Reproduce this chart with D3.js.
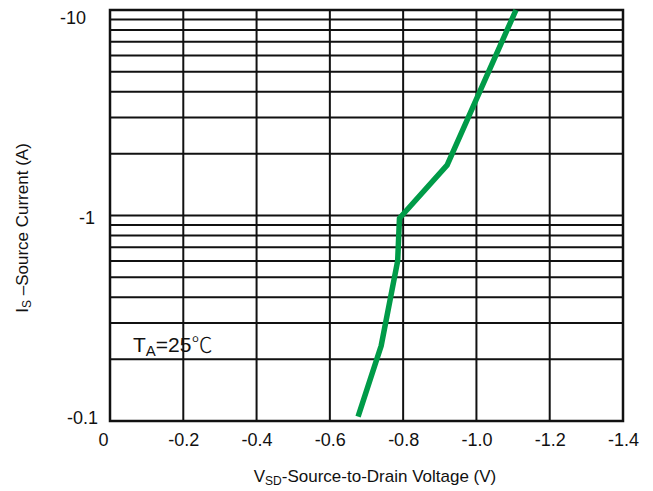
<!DOCTYPE html>
<html>
<head>
<meta charset="utf-8">
<script src="https://cdn.jsdelivr.net/npm/d3@7"></script>
<style>
  html, body { margin: 0; padding: 0; background: #fff; }
  svg { display: block; }
  text { font-family: "Liberation Sans", Arial, sans-serif; fill: #111; }
</style>
</head>
<body>
<script>
// Source-to-drain diode forward characteristic (negative polarity)
const vsd = [-0.677, -0.74, -0.785, -0.79, -0.92, -1.108];      // V
const isd = [-0.105, -0.232, -0.6, -0.97, -1.76, -10];          // A
const xTicks = [0, -0.2, -0.4, -0.6, -0.8, -1.0, -1.2, -1.4];
const xTickLabels = ["0", "-0.2", "-0.4", "-0.6", "-0.8", "-1.0", "-1.2", "-1.4"];
const yTicks = [-0.1, -1, -10];
const yTickLabels = ["-0.1", "-1", "-10"];

const W = 653, H = 491;
const m = { left: 110, right: 30, top: 10, bottom: 70 };

const svg = d3.select("body").append("svg").attr("width", W).attr("height", H);

const x = d3.scaleLinear().domain([0, -1.4]).range([m.left, W - m.right]);
const y = d3.scaleLog().domain([-0.1, -10]).range([H - m.bottom, m.top]);

// Horizontal grid: every minor decade step
const grid = svg.append("g");
grid.selectAll("line.h").data(y.ticks()).join("line")
  .attr("class", "h")
  .attr("x1", x(0)).attr("x2", x(-1.4))
  .attr("y1", d => y(d)).attr("y2", d => y(d))
  .attr("stroke", "#111").attr("stroke-width", 2);

// Vertical grid
grid.selectAll("line.v").data(xTicks).join("line")
  .attr("class", "v")
  .attr("x1", d => x(d)).attr("x2", d => x(d))
  .attr("y1", y(-0.1)).attr("y2", y(-10))
  .attr("stroke", "#111").attr("stroke-width", 2);

// Frame
svg.append("rect")
  .attr("x", x(0)).attr("y", y(-10))
  .attr("width", x(-1.4) - x(0)).attr("height", y(-0.1) - y(-10))
  .attr("fill", "none").attr("stroke", "#111").attr("stroke-width", 2.5);

// X axis labels
const xAxis = d3.axisBottom(x).tickValues(xTicks)
  .tickFormat((d, i) => xTickLabels[i]).tickSize(0).tickPadding(12);
const gx = svg.append("g").attr("transform", `translate(0,${y(-0.1)})`).call(xAxis);
gx.select(".domain").remove();
gx.selectAll("text").style("font-size", "18px")
  .attr("font-family", "Liberation Sans, Arial, sans-serif")
  .attr("fill", "#111")
  .attr("dx", d => d === 0 ? -7 : 0);

// Y axis labels
const yAxis = d3.axisLeft(y).tickValues(yTicks)
  .tickFormat((d, i) => yTickLabels[i]).tickSize(0).tickPadding(12);
const gy = svg.append("g").attr("transform", `translate(${x(0)},0)`).call(yAxis);
gy.select(".domain").remove();
const yShift = { "-0.1": { dx: 0, dy: -3 }, "-1": { dx: -3, dy: 2 }, "-10": { dx: -12, dy: 8 } };
gy.selectAll("text").style("font-size", "18px")
  .attr("font-family", "Liberation Sans, Arial, sans-serif")
  .attr("fill", "#111")
  .attr("transform", d => `translate(${yShift[String(d)].dx},${yShift[String(d)].dy})`);

// Curve
const line = d3.line().x((d, i) => x(vsd[i])).y(d => y(d));
svg.append("path")
  .datum(isd)
  .attr("d", line)
  .attr("fill", "none")
  .attr("stroke", "#009b48")
  .attr("stroke-width", 5.5)
  .attr("stroke-linejoin", "round");

// Temperature note
const note = svg.append("text").attr("x", 133).attr("y", 352).style("font-size", "21px");
note.append("tspan").text("T");
note.append("tspan").attr("dy", 4).style("font-size", "15px").text("A");
note.append("tspan").attr("dy", -4).text("=25");
note.append("tspan").style("font-family", "Noto Sans CJK SC").style("font-weight", 300).text("℃");

// Axis titles
const xt = svg.append("text").attr("x", 375).attr("y", 482)
  .attr("text-anchor", "middle").style("font-size", "17px");
xt.append("tspan").text("V");
xt.append("tspan").attr("dy", 3).style("font-size", "12px").text("SD");
xt.append("tspan").attr("dy", -3).text("-Source-to-Drain Voltage (V)");

const yt = svg.append("text")
  .attr("transform", "translate(28,228) rotate(-90)")
  .attr("text-anchor", "middle").style("font-size", "17px");
yt.append("tspan").text("I");
yt.append("tspan").attr("dy", 3).style("font-size", "12px").text("S");
yt.append("tspan").attr("dy", -3).text(" –Source Current (A)");
</script>
</body>
</html>
